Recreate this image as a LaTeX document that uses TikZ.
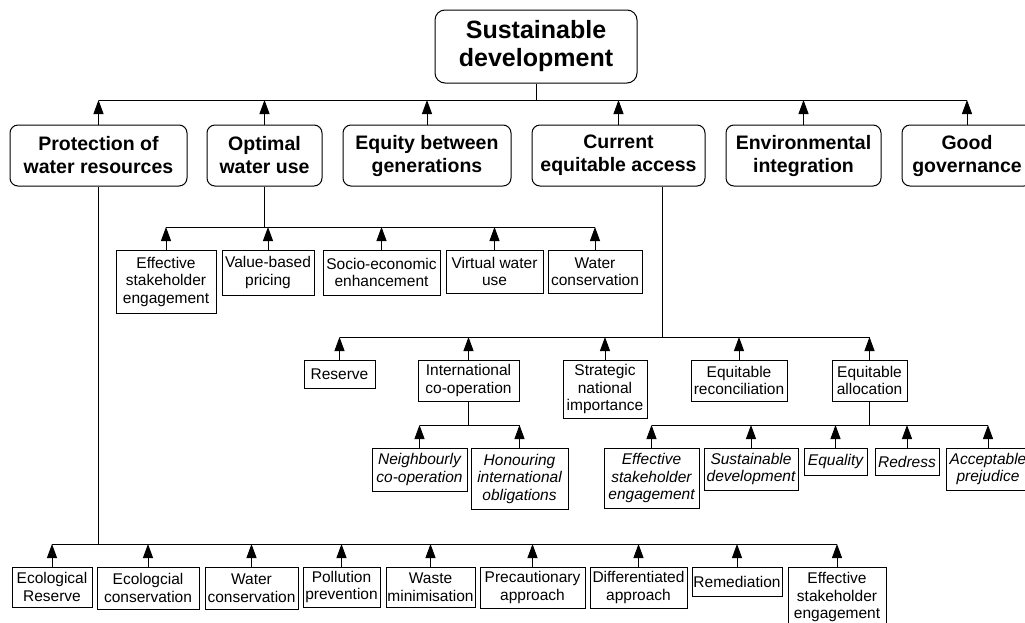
\documentclass[tikz,border=0pt]{standalone}
\usepackage{fontspec}
\setmainfont{Liberation Sans}
\usetikzlibrary{arrows.meta}

\tikzset{
  link/.style={line width=1pt, draw=black},
  up/.style={link, -{Triangle[length=14pt,width=10pt]}},
  sbox/.style={draw, line width=0.9pt, align=center, inner sep=0pt,
    font=\fontsize{15.5}{17.5}\selectfont},
  ibox/.style={sbox, font=\fontsize{15.5}{17.5}\selectfont\itshape},
  mbox/.style={draw, line width=1pt, rounded corners=8pt, align=center, inner sep=0pt,
    minimum height=61pt, font=\fontsize{19.5}{23}\selectfont\bfseries},
  topbox/.style={mbox, rounded corners=10pt, minimum height=73pt,
    font=\fontsize{25}{28}\selectfont\bfseries}
}

\begin{document}
\begin{tikzpicture}[x=1pt, y=-1pt]
\fill[white] (0,0) rectangle (1025,622);
\useasboundingbox (0,0) rectangle (1025,622);

% levels of the hierarchy (y positions of the connector bars)
\coordinate (y0) at (0,100);
\coordinate (ya) at (0,227);
\coordinate (yb) at (0,337);
\coordinate (yc) at (0,425);
\coordinate (ye) at (0,544);
\coordinate (s4) at (662,0);

% goal
\node[topbox, minimum width=202pt] (root) at (536,46.5) {Sustainable\\development};

% principles
\node[mbox, minimum width=177pt] (p1) at (98.5,155.5) {Protection of\\water resources};
\node[mbox, minimum width=115pt] (p2) at (264.5,155.5) {Optimal\\water use};
\node[mbox, minimum width=168pt] (p3) at (427,155.5) {Equity between\\generations};
\node[mbox, minimum width=173pt] (p4) at (618.5,155.5) {Current\\equitable access};
\node[mbox, minimum width=155pt] (p5) at (803.5,155.5) {Environmental\\integration};
\node[mbox, minimum width=130pt] (p6) at (967,155.5) {Good\\governance};

% optimal water use
\node[sbox, minimum width=100pt, minimum height=63pt] (a1) at (166,281.5) {Effective\\stakeholder\\engagement};
\node[sbox, minimum width=92pt, minimum height=45pt] (a2) at (268,272.5) {Value-based\\pricing};
\node[sbox, minimum width=117pt, minimum height=45pt] (a3) at (381.5,272.5) {Socio-economic\\enhancement};
\node[sbox, minimum width=97pt, minimum height=43pt] (a4) at (494.5,271.5) {Virtual water\\use};
\node[sbox, minimum width=94pt, minimum height=43pt] (a5) at (595,271.5) {Water\\conservation};

% current equitable access
\node[sbox, minimum width=71pt, minimum height=28pt] (b1) at (339.5,374) {Reserve};
\node[sbox, minimum width=101pt, minimum height=41pt] (b2) at (468.5,380.5) {International\\co-operation};
\node[sbox, minimum width=84pt, minimum height=58pt] (b3) at (605,389) {Strategic\\national\\importance};
\node[sbox, minimum width=96pt, minimum height=41pt] (b4) at (739,380.5) {Equitable\\reconciliation};
\node[sbox, minimum width=75pt, minimum height=41pt] (b5) at (869.5,380.5) {Equitable\\allocation};

% international co-operation
\node[ibox, minimum width=95pt, minimum height=43pt] (c1) at (419.5,469.5) {Neighbourly\\co-operation};
\node[ibox, minimum width=97pt, minimum height=61pt] (c2) at (519.5,478.5) {Honouring\\international\\obligations};

% equitable allocation
\node[ibox, minimum width=95pt, minimum height=60pt] (d1) at (651.5,478) {Effective\\stakeholder\\engagement};
\node[ibox, minimum width=94pt, minimum height=42pt] (d2) at (751,469) {Sustainable\\development};
\node[ibox, minimum width=63pt, minimum height=27pt] (d3) at (835.5,461.5) {Equality};
\node[ibox, minimum width=64pt, minimum height=27pt] (d4) at (907,461.5) {Redress};
\node[ibox, minimum width=84pt, minimum height=42pt] (d5) at (988,469) {Acceptable\\prejudice};

% protection of water resources
\node[sbox, minimum width=80pt, minimum height=40pt] (e1) at (52,587) {Ecological\\Reserve};
\node[sbox, minimum width=102pt, minimum height=42pt] (e2) at (148,588) {Ecologcial\\conservation};
\node[sbox, minimum width=93pt, minimum height=42pt] (e3) at (251.5,588) {Water\\conservation};
\node[sbox, minimum width=77pt, minimum height=40pt] (e4) at (341.5,587) {Pollution\\prevention};
\node[sbox, minimum width=89pt, minimum height=40pt] (e5) at (430.5,587) {Waste\\minimisation};
\node[sbox, minimum width=105pt, minimum height=41pt] (e6) at (532.5,587.5) {Precautionary\\approach};
\node[sbox, minimum width=97pt, minimum height=41pt] (e7) at (638.5,587.5) {Differentiated\\approach};
\node[sbox, minimum width=90pt, minimum height=29pt] (e8) at (737,581.5) {Remediation};
\node[sbox, minimum width=98pt, minimum height=60pt] (e9) at (837,597) {Effective\\stakeholder\\engagement};

% goal <- principles
\draw[link] (root.south) -- (root.south |- y0);
\draw[link] (p1.north |- y0) -- (p6.north |- y0);
\foreach \n in {p1,p2,p3,p4,p5,p6} \draw[up] (\n.north) -- (\n.north |- y0);

% optimal water use <- measures
\draw[link] (p2.south) -- (p2.south |- ya);
\draw[link] (a1.north |- ya) -- (a5.north |- ya);
\foreach \n in {a1,a2,a3,a4,a5} \draw[up] (\n.north) -- (\n.north |- ya);

% current equitable access <- measures
\draw[link] (p4.south -| s4) -- (s4 |- yb);
\draw[link] (b1.north |- yb) -- (b5.north |- yb);
\foreach \n in {b1,b2,b3,b4,b5} \draw[up] (\n.north) -- (\n.north |- yb);

% international co-operation <- obligations
\draw[link] (b2.south) -- (b2.south |- yc);
\draw[link] (c1.north |- yc) -- (c2.north |- yc);
\foreach \n in {c1,c2} \draw[up] (\n.north) -- (\n.north |- yc);

% equitable allocation <- criteria
\draw[link] (b5.south) -- (b5.south |- yc);
\draw[link] (d1.north |- yc) -- (d5.north |- yc);
\foreach \n in {d1,d2,d3,d4,d5} \draw[up] (\n.north) -- (\n.north |- yc);

% protection of water resources <- measures
\draw[link] (p1.south) -- (p1.south |- ye);
\draw[link] (e1.north |- ye) -- (e9.north |- ye);
\foreach \n in {e1,e2,e3,e4,e5,e6,e7,e8,e9} \draw[up] (\n.north) -- (\n.north |- ye);
\end{tikzpicture}
\end{document}
